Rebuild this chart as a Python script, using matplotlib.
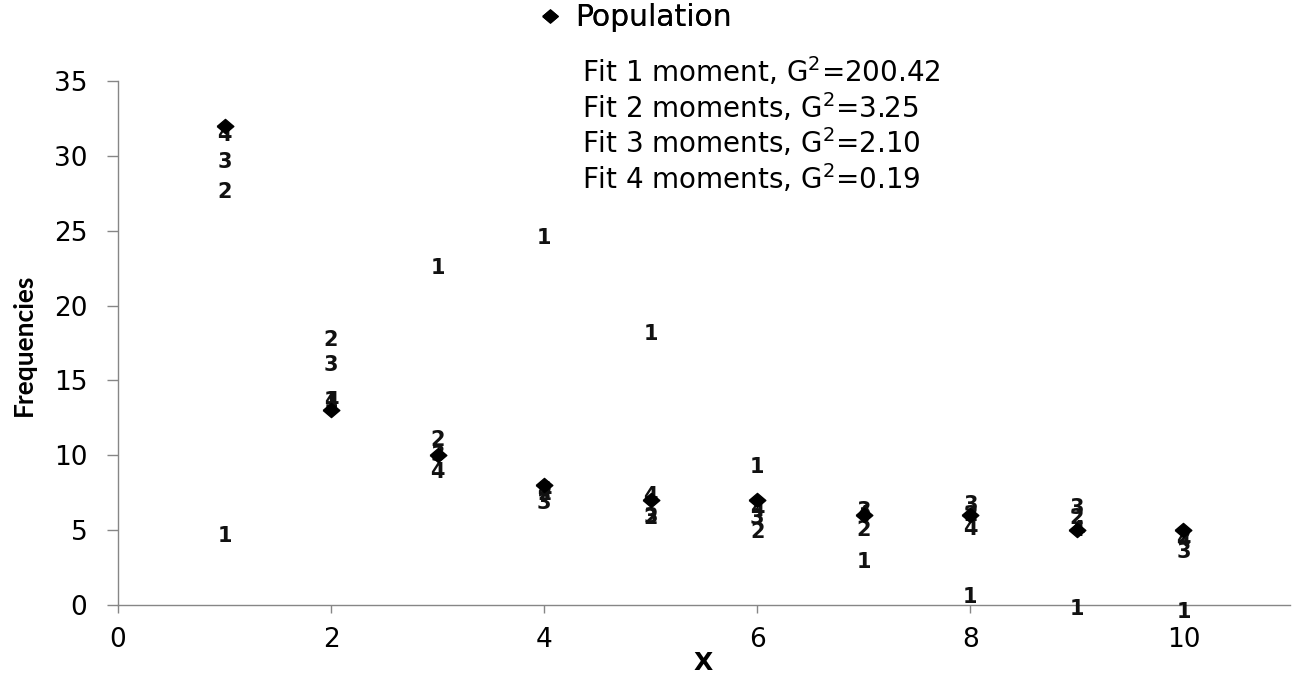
import matplotlib
matplotlib.use("Agg")
import matplotlib.pyplot as plt
from matplotlib.lines import Line2D

# ---- data ----
x_vals = [1, 2, 3, 4, 5, 6, 7, 8, 9, 10]
population = [32, 13, 10, 8, 7, 7, 6, 6, 5, 5]
fit1 = [4.6, 13.6, 22.5, 24.5, 18.1, 9.2, 2.9, 0.55, -0.3, -0.45]
fit2 = [27.6, 17.7, 11.0, 7.4, 5.8, 4.9, 5.0, 6.0, 5.8, 4.5]
fit3 = [29.6, 16.0, 10.0, 6.8, 5.9, 5.8, 6.3, 6.7, 6.5, 3.55]
fit4 = [31.4, 13.6, 8.9, 7.6, 7.3, 6.35, 6.0, 5.1, 5.0, 4.35]
fit_series = [("1", fit1), ("2", fit2), ("3", fit3), ("4", fit4)]
fit_labels = ["Fit 1 moment, G$^2$=200.42",
              "Fit 2 moments, G$^2$=3.25",
              "Fit 3 moments, G$^2$=2.10",
              "Fit 4 moments, G$^2$=0.19"]
pop_label = "Population"
x_ticks = [0, 2, 4, 6, 8, 10]
y_ticks = [0, 5, 10, 15, 20, 25, 30, 35]

W, H = 1297, 677
fig = plt.figure(figsize=(W / 100, H / 100), dpi=100)
ax = fig.add_axes([118 / W, 72 / H, (1290 - 118) / W, (605 - 81) / H])

grey = "#868686"
ax.set_xlim(0, 11)
ax.set_ylim(0, 35)
for s in ["top", "right"]:
    ax.spines[s].set_visible(False)
for s in ["left", "bottom"]:
    ax.spines[s].set_color(grey)
    ax.spines[s].set_linewidth(1.0)

ax.set_xticks(x_ticks)
ax.set_yticks(y_ticks)
ax.tick_params(axis="both", direction="out", color=grey, width=1.0,
               labelsize=19, labelcolor="#000000")
ax.tick_params(axis="x", length=6, pad=10)
ax.tick_params(axis="y", length=8, pad=14)
for lab in ax.get_xticklabels() + ax.get_yticklabels():
    lab.set_family("DejaVu Sans")

# fit series drawn as digit markers
for digit, vals in fit_series:
    for xv, yv in zip(x_vals, vals):
        ax.text(xv, yv, digit, ha="center", va="center", fontsize=15,
                fontweight="bold", family="DejaVu Sans", color="#111111",
                zorder=3)

# population diamonds
diamond = [(-1, 0), (0, 0.85), (1, 0), (0, -0.85), (-1, 0)]
ax.plot(x_vals, population, linestyle="none", marker=diamond, markersize=12,
        color="black", zorder=4, clip_on=False)

ax.set_xlabel("X", fontsize=18, fontweight="bold", family="DejaVu Sans",
              labelpad=0)
ax.xaxis.set_label_coords((703 - 118) / (1290 - 118), -(651 - 605) / (605 - 81))
ax.set_ylabel("Frequencies", fontsize=19, fontweight="bold", family="Lato")
ax.yaxis.set_label_coords(-(118 - 36) / (1290 - 118), (605 - 345) / (605 - 81))

# legends
h_pop = Line2D([], [], linestyle="none", marker=diamond, markersize=11,
               color="black")
leg1 = fig.legend([h_pop], [pop_label], loc="center left",
                  bbox_to_anchor=(542 / W, 1 - 18 / H), frameon=False,
                  prop={"family": "DejaVu Sans", "size": 21.5},
                  handlelength=0.55, handletextpad=0.55, borderpad=0,
                  borderaxespad=0)
fig.add_artist(leg1)
h_none = [Line2D([], [], linestyle="none") for _ in fit_labels]
leg2 = fig.legend(h_none, fit_labels, loc="upper left",
                  bbox_to_anchor=(582 / W, 1 - 55 / H), frameon=False,
                  prop={"family": "DejaVu Sans", "size": 20},
                  handlelength=0, handletextpad=0, borderpad=0,
                  borderaxespad=0, labelspacing=0.1)

fig.savefig("out.png", dpi=100)
